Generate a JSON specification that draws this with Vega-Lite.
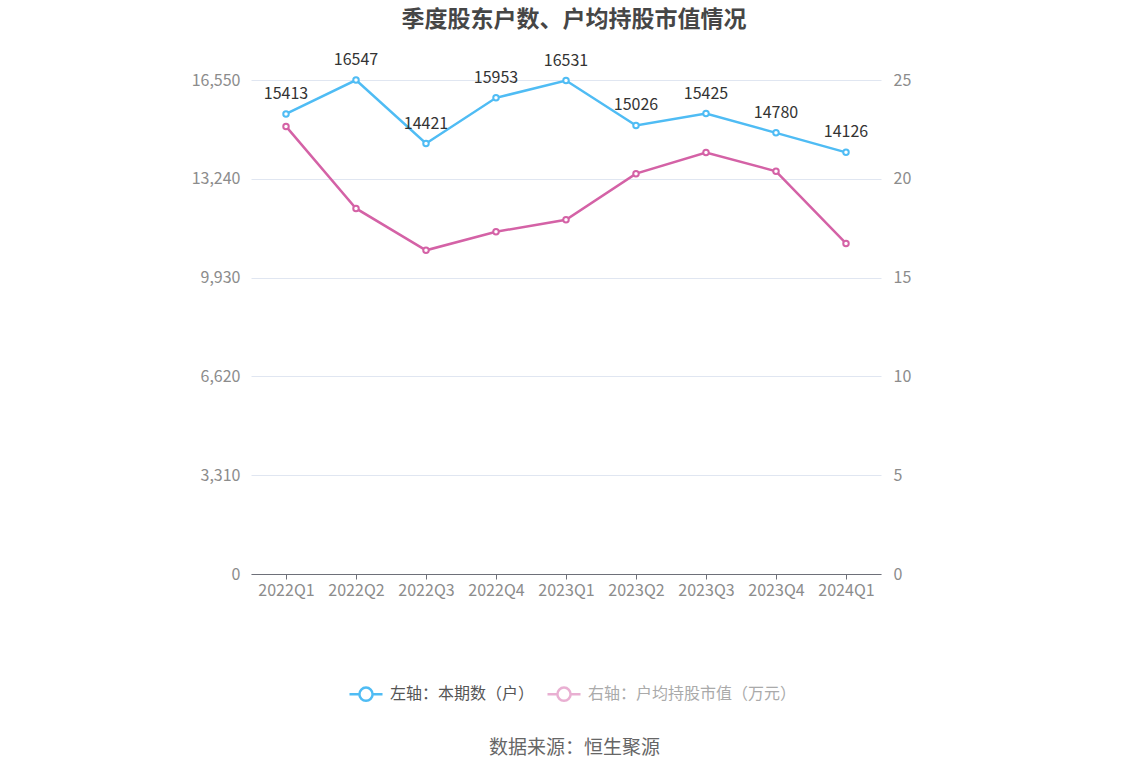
{
  "$schema": "https://vega.github.io/schema/vega-lite/v6.json",
  "width": 630,
  "height": 494,
  "autosize": {"type": "none"},
  "padding": {"left": 251, "top": 80, "right": 267, "bottom": 202},
  "background": "white",
  "config": {"font": "Noto Sans CJK SC", "view": {"stroke": null}},
  "title": {"text": "季度股东户数、户均持股市值情况", "anchor": "middle", "frame": "group", "fontSize": 23, "fontWeight": "bold", "color": "#464646", "offset": 20, "dx": 8},
  "data": {"values": [
    {"q": "2022Q1", "series": "左轴：本期数（户）", "value": 15413},
    {"q": "2022Q2", "series": "左轴：本期数（户）", "value": 16547},
    {"q": "2022Q3", "series": "左轴：本期数（户）", "value": 14421},
    {"q": "2022Q4", "series": "左轴：本期数（户）", "value": 15953},
    {"q": "2023Q1", "series": "左轴：本期数（户）", "value": 16531},
    {"q": "2023Q2", "series": "左轴：本期数（户）", "value": 15026},
    {"q": "2023Q3", "series": "左轴：本期数（户）", "value": 15425},
    {"q": "2023Q4", "series": "左轴：本期数（户）", "value": 14780},
    {"q": "2024Q1", "series": "左轴：本期数（户）", "value": 14126},
    {"q": "2022Q1", "series": "右轴：户均持股市值（万元）", "value": 22.65},
    {"q": "2022Q2", "series": "右轴：户均持股市值（万元）", "value": 18.50},
    {"q": "2022Q3", "series": "右轴：户均持股市值（万元）", "value": 16.38},
    {"q": "2022Q4", "series": "右轴：户均持股市值（万元）", "value": 17.32},
    {"q": "2023Q1", "series": "右轴：户均持股市值（万元）", "value": 17.93},
    {"q": "2023Q2", "series": "右轴：户均持股市值（万元）", "value": 20.26},
    {"q": "2023Q3", "series": "右轴：户均持股市值（万元）", "value": 21.33},
    {"q": "2023Q4", "series": "右轴：户均持股市值（万元）", "value": 20.38},
    {"q": "2024Q1", "series": "右轴：户均持股市值（万元）", "value": 16.73}
  ]},
  "encoding": {
    "x": {"field": "q", "type": "ordinal", "sort": null, "scale": {"type": "point", "padding": 0.5},
      "axis": {"labelAngle": 0, "tickSize": 5, "tickColor": "#6e7079", "domainColor": "#6e7079", "domainWidth": 1.2, "labelColor": "#8c8c8c", "labelFontSize": 16, "labelPadding": 3, "grid": false,
        "title": "数据来源：恒生聚源", "titleFontSize": 19, "titleColor": "#666666", "titleFontWeight": "normal", "titlePadding": 140, "titleX": 323}},
    "color": {"field": "series", "type": "nominal",
      "scale": {"domain": ["左轴：本期数（户）", "右轴：户均持股市值（万元）"], "range": ["#4fbcf4", "#d462a6"]},
      "legend": {"orient": "none", "legendX": 97, "legendY": 596, "direction": "horizontal", "title": null,
        "symbolType": "M-1,0 L-0.4,0 M0.4,0 L1,0 M-0.4,0 A0.4,0.4 0 1,1 0.4,0 A0.4,0.4 0 1,1 -0.4,0",
        "symbolSize": 1089, "symbolStrokeWidth": 2.5, "symbolFillColor": "white",
        "labelFontSize": 16, "labelColor": "#555555", "labelOffset": 6, "labelLimit": 400, "columnPadding": 7,
        "encode": {
          "symbols": {"update": {"opacity": {"signal": "datum.value === '右轴：户均持股市值（万元）' ? 0.5 : 1"}}},
          "labels": {"update": {"fill": {"signal": "datum.value === '右轴：户均持股市值（万元）' ? '#aaaaaa' : '#555555'"}}}
        }}}
  },
  "layer": [
    {
      "transform": [{"filter": "datum.series === '左轴：本期数（户）'"}],
      "encoding": {
        "y": {"field": "value", "type": "quantitative", "scale": {"domain": [0, 16550], "nice": false, "zero": true},
          "axis": {"orient": "left", "values": [0, 3310, 6620, 9930, 13240, 16550], "format": ",.0f", "title": null, "ticks": false, "domain": false, "grid": true, "gridColor": "#e0e6f1", "labelColor": "#8c8c8c", "labelFontSize": 16, "labelPadding": 11}}
      },
      "layer": [
        {"mark": {"type": "line", "strokeWidth": 2.5, "point": {"filled": false, "fill": "white", "size": 30, "strokeWidth": 2}}},
        {"mark": {"type": "text", "dy": -20, "baseline": "middle", "fontSize": 16, "color": "#333333"},
          "encoding": {"text": {"field": "value", "type": "quantitative", "format": "d"}, "color": {"value": "#333333"}}}
      ]
    },
    {
      "transform": [{"filter": "datum.series === '右轴：户均持股市值（万元）'"}],
      "mark": {"type": "line", "strokeWidth": 2.5, "point": {"filled": false, "fill": "white", "size": 30, "strokeWidth": 2}},
      "encoding": {
        "y": {"field": "value", "type": "quantitative", "scale": {"domain": [0, 25], "nice": false},
          "axis": {"orient": "right", "values": [0, 5, 10, 15, 20, 25], "title": null, "ticks": false, "domain": false, "grid": false, "labelColor": "#8c8c8c", "labelFontSize": 16, "labelPadding": 12}}
      }
    }
  ],
  "resolve": {"scale": {"y": "independent"}}
}
